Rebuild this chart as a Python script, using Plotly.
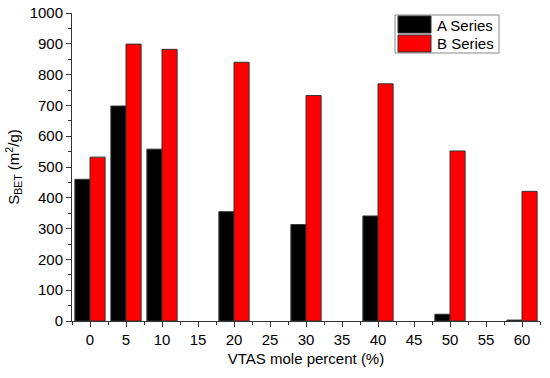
import plotly.graph_objects as go

x_vals = [0, 5, 10, 20, 30, 40, 50, 60]
a_series = [460, 698, 558, 355, 313, 341, 22, 3]
b_series = [532, 899, 882, 840, 732, 770, 552, 421]
x_ticks = [0, 5, 10, 15, 20, 25, 30, 35, 40, 45, 50, 55, 60]
series_names = ["A Series", "B Series"]
series_colors = ["black", "#ff0000"]

fig = go.Figure()
fig.add_trace(go.Bar(x=x_vals, y=a_series, name=series_names[0], width=2.1, offset=-2.1,
                     marker=dict(color=series_colors[0], line=dict(color="#333333", width=1))))
fig.add_trace(go.Bar(x=x_vals, y=b_series, name=series_names[1], width=2.1, offset=0,
                     marker=dict(color=series_colors[1], line=dict(color="#333333", width=1))))

fnt = dict(family="Liberation Sans, Arial", size=15, color="black")

# plot area in pixels: x 72..540, y 13..321
def px_y(p):
    return (321 - p) / 308

def px_x(p):
    return (p - 72) / 468

shapes = [dict(type="rect", xref="paper", yref="paper", x0=px_x(395), x1=px_x(499),
               y0=px_y(53), y1=px_y(15), line=dict(color="#888888", width=1),
               fillcolor="white", layer="above")]
annotations = []
rows = [(16, 33, 25), (35, 52, 43.5)]
for (top, bot, mid), nm, col in zip(rows, series_names, series_colors):
    shapes.append(dict(type="rect", xref="paper", yref="paper", x0=px_x(398), x1=px_x(431),
                       y0=px_y(bot), y1=px_y(top), line=dict(color="#333333", width=1),
                       fillcolor=col, layer="above"))
    annotations.append(dict(xref="paper", yref="paper", x=px_x(435), y=px_y(mid), text=nm,
                            showarrow=False, xanchor="left", yanchor="middle", font=fnt))

fig.update_layout(
    width=550, height=378,
    margin=dict(l=72, r=10, t=13, b=57),
    paper_bgcolor="white", plot_bgcolor="white",
    barmode="overlay",
    font=fnt,
    showlegend=False,
    shapes=shapes,
    annotations=annotations,
    xaxis=dict(range=[-2.5, 62.5], tickvals=x_ticks, ticktext=[str(v) for v in x_ticks],
               automargin=False, tickfont=fnt,
               ticks="outside", ticklen=5, tickwidth=1, tickcolor="#333",
               showline=True, linecolor="#333", linewidth=1, showgrid=False, zeroline=False,
               minor=dict(ticks="outside", dtick=2.5, tick0=0, ticklen=3, tickcolor="#333"),
               title=dict(text="VTAS mole percent (%)", font=fnt, standoff=6)),
    yaxis=dict(range=[0, 1000], dtick=100, tick0=0, automargin=False, tickfont=fnt,
               ticks="outside", ticklen=5, tickwidth=1, tickcolor="#333",
               showline=True, linecolor="#333", linewidth=1, showgrid=False, zeroline=False,
               minor=dict(ticks="outside", dtick=50, ticklen=3, tickcolor="#333"),
               title=dict(text="S<sub>BET</sub> (m<sup>2</sup>/g)", font=fnt, standoff=6)),
)
fig.write_html("out.html", config={"displayModeBar": False},
               post_script="document.body.style.margin='0';")
